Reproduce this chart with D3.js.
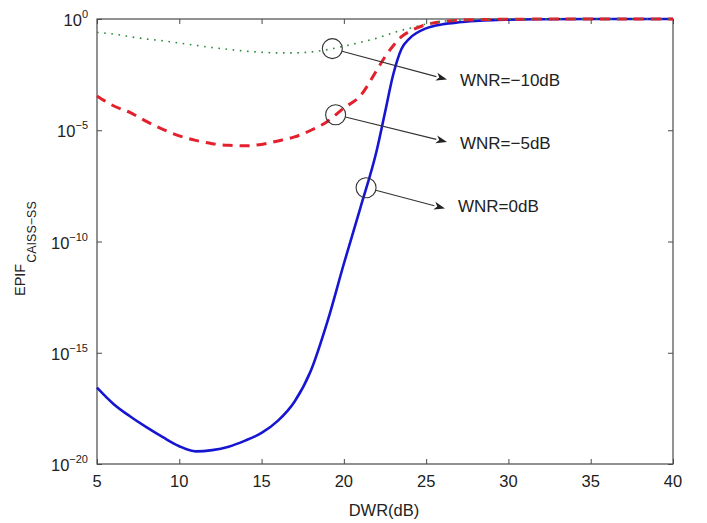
<!DOCTYPE html>
<html>
<head>
<meta charset="utf-8">
<script src="https://cdn.jsdelivr.net/npm/d3@7/dist/d3.min.js"></script>
<style>
  html, body { margin: 0; padding: 0; background: #fff; }
  svg { display: block; font-family: "Liberation Sans", Arial, Helvetica, sans-serif; }
</style>
</head>
<body>
<svg id="chart" width="707" height="523"></svg>
<script>
// DWR (dB) sample points shared by the three curves
const dwr = [5, 6, 7, 8, 9, 10, 11, 12, 13, 14, 15, 16, 17, 18, 19, 20, 21, 22, 22.5, 23, 23.5, 24, 25, 26, 27, 28, 29, 30, 32, 35, 40];

// EPIF values for each WNR setting
const epifWnr0 = [2.7e-17, 5.0e-18, 1.4e-18, 4.5e-19, 1.6e-19, 6.3e-20, 3.7e-20, 4.2e-20, 6.0e-20, 1.12e-19, 2.5e-19, 8.9e-19, 6.3e-18, 1.6e-16, 2.5e-14, 1.0e-11, 3.2e-9, 1.26e-6, 6.3e-5, 3.2e-3, 4.5e-2, 0.135, 0.38, 0.58, 0.71, 0.81, 0.89, 0.93, 0.98, 1, 1];
const epifWnrM5 = [3.5e-4, 1.26e-4, 6.3e-5, 2.5e-5, 1.1e-5, 5.6e-6, 3.5e-6, 2.5e-6, 2.1e-6, 2.0e-6, 2.3e-6, 3.3e-6, 5.0e-6, 1.0e-5, 2.5e-5, 1.0e-4, 3.5e-4, 5.0e-3, 2.0e-2, 6.3e-2, 0.16, 0.28, 0.56, 0.76, 0.87, 0.93, 0.96, 0.98, 0.99, 1, 1];
const epifWnrM10 = [0.25, 0.21, 0.16, 0.126, 0.105, 0.083, 0.066, 0.052, 0.043, 0.036, 0.032, 0.030, 0.030, 0.033, 0.042, 0.060, 0.089, 0.138, 0.18, 0.24, 0.31, 0.38, 0.60, 0.79, 0.89, 0.95, 0.97, 0.98, 0.99, 1, 1];

// Axis ticks
const xTicks = [5, 10, 15, 20, 25, 30, 35, 40];
const yTickExps = [0, -5, -10, -15, -20];

// Curve annotations: circled point on the curve, arrow to the label
const annotations = [
  { label: "WNR=\u221210dB", x: 19.3, series: "m10" },
  { label: "WNR=\u22125dB", x: 19.5, series: "m5" },
  { label: "WNR=0dB", x: 21.35, series: "0" }
];

const svg = d3.select("#chart");
const plotL = 97, plotR = 673, plotT = 19, plotB = 464;

const x = d3.scaleLinear().domain([5, 40]).range([plotL, plotR]);
const y = d3.scaleLog().domain([1e-20, 1]).range([plotB, plotT]);

const seriesData = {
  "0": dwr.map((d, i) => [d, epifWnr0[i]]),
  "m5": dwr.map((d, i) => [d, epifWnrM5[i]]),
  "m10": dwr.map((d, i) => [d, epifWnrM10[i]])
};

const line = d3.line()
  .x(d => x(d[0]))
  .y(d => y(d[1]))
  .curve(d3.curveMonotoneX);

const axisColor = "#4a4a4a";
const textColor = "#222";

// Inward ticks on all four sides
svg.append("g").attr("transform", `translate(0,${plotB})`)
  .call(d3.axisBottom(x).tickValues(xTicks).tickSize(-5).tickFormat(""))
  .call(g => g.select(".domain").remove())
  .call(g => g.selectAll("line").attr("stroke", axisColor));
svg.append("g").attr("transform", `translate(0,${plotT})`)
  .call(d3.axisTop(x).tickValues(xTicks).tickSize(-5).tickFormat(""))
  .call(g => g.select(".domain").remove())
  .call(g => g.selectAll("line").attr("stroke", axisColor));
const yTickVals = yTickExps.map(e => Math.pow(10, e));
svg.append("g").attr("transform", `translate(${plotL},0)`)
  .call(d3.axisLeft(y).tickValues(yTickVals).tickSize(-5).tickFormat(""))
  .call(g => g.select(".domain").remove())
  .call(g => g.selectAll("line").attr("stroke", axisColor));
svg.append("g").attr("transform", `translate(${plotR},0)`)
  .call(d3.axisRight(y).tickValues(yTickVals).tickSize(-5).tickFormat(""))
  .call(g => g.select(".domain").remove())
  .call(g => g.selectAll("line").attr("stroke", axisColor));

// Frame
svg.append("rect")
  .attr("x", plotL).attr("y", plotT)
  .attr("width", plotR - plotL).attr("height", plotB - plotT)
  .attr("fill", "none").attr("stroke", axisColor).attr("stroke-width", 1.2);

// X tick labels
svg.append("g").selectAll("text").data(xTicks).join("text")
  .attr("x", d => x(d)).attr("y", plotB + 23)
  .attr("text-anchor", "middle")
  .attr("font-size", 16.5).attr("fill", textColor)
  .text(d => d);

// Y tick labels as 10^n
const yl = svg.append("g").selectAll("text").data(yTickExps).join("text")
  .attr("x", plotL - 9).attr("y", d => y(Math.pow(10, d)) + 7)
  .attr("text-anchor", "end")
  .attr("font-size", 16.5).attr("fill", textColor);
yl.append("tspan").text("10");
yl.append("tspan").attr("font-size", 11).attr("dy", -8)
  .text(d => d === 0 ? "0" : "\u2212" + Math.abs(d));

// Axis titles
svg.append("text")
  .attr("x", (plotL + plotR) / 2 - 1).attr("y", 516)
  .attr("text-anchor", "middle")
  .attr("font-size", 16.5).attr("fill", textColor)
  .text("DWR(dB)");

const yTitle = svg.append("text")
  .attr("transform", "translate(25,296) rotate(-90)")
  .attr("font-size", 14.5).attr("fill", textColor);
yTitle.append("tspan").text("EPIF");
yTitle.append("tspan").attr("font-size", 12.5).attr("dy", 11).attr("dx", 1)
  .text("CAISS\u2212SS");

// Curves
const plot = svg.append("g");
plot.append("path").datum(seriesData["0"])
  .attr("d", line).attr("fill", "none")
  .attr("stroke", "#1616d2").attr("stroke-width", 2.6);
plot.append("path").datum(seriesData["m5"])
  .attr("d", line).attr("fill", "none")
  .attr("stroke", "#e3202c").attr("stroke-width", 3)
  .attr("stroke-dasharray", "10,7");
plot.append("path").datum(seriesData["m10"])
  .attr("d", line).attr("fill", "none")
  .attr("stroke", "#2a8a3a").attr("stroke-width", 1.6)
  .attr("stroke-dasharray", "1.6,5.6");

// Annotations
function valueAt(series, xv) {
  const pts = seriesData[series];
  for (let i = 1; i < pts.length; i++) {
    if (xv <= pts[i][0]) {
      const [x0, v0] = pts[i - 1], [x1, v1] = pts[i];
      const t = (xv - x0) / (x1 - x0);
      return Math.pow(10, Math.log10(v0) + t * (Math.log10(v1) - Math.log10(v0)));
    }
  }
  return pts[pts.length - 1][1];
}

const labelPos = [
  { tip: [447, 79.5], text: [460, 86] },
  { tip: [447, 142], text: [460, 148.5] },
  { tip: [445, 208.5], text: [458, 212] }
];
const r = 10;
const ann = svg.append("g");
annotations.forEach((a, i) => {
  const cx = x(a.x), cy = y(valueAt(a.series, a.x));
  const [tx, ty] = labelPos[i].tip;
  ann.append("circle").attr("cx", cx).attr("cy", cy).attr("r", r)
    .attr("fill", "none").attr("stroke", "#333").attr("stroke-width", 1.1);
  const ang = Math.atan2(ty - cy, tx - cx);
  const sx = cx + r * Math.cos(ang), sy = cy + r * Math.sin(ang);
  const headLen = 11, headW = 4;
  const bx = tx - headLen * Math.cos(ang), by = ty - headLen * Math.sin(ang);
  ann.append("line").attr("x1", sx).attr("y1", sy).attr("x2", bx).attr("y2", by)
    .attr("stroke", "#333").attr("stroke-width", 1.1);
  const px = -Math.sin(ang), py = Math.cos(ang);
  ann.append("path")
    .attr("d", `M${tx},${ty}L${bx + headW * px},${by + headW * py}L${bx + 3 * Math.cos(ang)},${by + 3 * Math.sin(ang)}L${bx - headW * px},${by - headW * py}Z`)
    .attr("fill", "#222");
  ann.append("text")
    .attr("x", labelPos[i].text[0]).attr("y", labelPos[i].text[1])
    .attr("font-size", 17).attr("fill", textColor)
    .text(a.label);
});
</script>
</body>
</html>
